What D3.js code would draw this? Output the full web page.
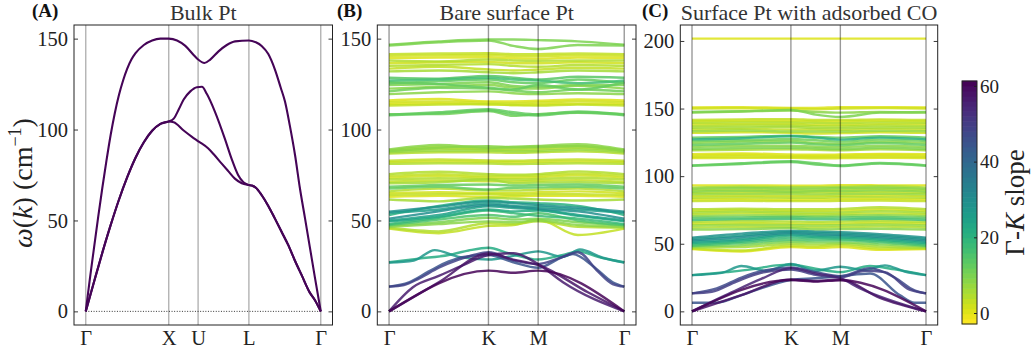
<!DOCTYPE html>
<html>
<head>
<meta charset="utf-8">
<script src="https://cdn.jsdelivr.net/npm/d3@7"></script>
<style>
  body { margin: 0; background: #fff; }
  svg { display: block; }
</style>
</head>
<body>
<svg id="fig" width="1034" height="354"></svg>
<script>
// ---- data ----
var bulkLabels = ["Γ", "X", "U", "L", "Γ"];
var bulkTicks = [0, 1, 1.354, 1.966, 2.832];
var surfLabels = ["Γ", "K", "M", "Γ"];
var surfTicks = [0, 1, 1.5, 2.366];
// k nodes used by the flat optical bands of the slabs
var kGrid = [0, 0.5, 1, 1.25, 1.5, 1.9, 2.366];

var bulkUpper = [[0,0],[0.05,18],[0.1,35],[0.15,52],[0.2,68],[0.25,83],[0.3,97],[0.35,109],[0.4,119],[0.45,127],
  [0.5,133.5],[0.55,138.5],[0.6,142],[0.7,146.5],[0.8,149],[0.9,150],[1,150],[1.1,149],[1.2,146],[1.3,141],
  [1.354,138.5],[1.43,136.6],[1.5,138.5],[1.6,143],[1.7,146.5],[1.8,148.5],[1.966,149],[2.05,148],[2.12,146],
  [2.2,141.5],[2.28,133],[2.35,123],[2.401,115.4],[2.46,102],[2.522,86],[2.58,68],[2.643,51],[2.7,35.5],
  [2.764,18],[2.832,0]];
var bulkMiddle = [[0,0],[0.1,16.3],[0.2,32.3],[0.3,47.4],[0.4,61.4],[0.5,73.8],[0.6,84.5],[0.7,93],[0.8,99.3],
  [0.9,103.1],[1,104.4],[1.06,106],[1.12,111],[1.18,116.5],[1.26,121],[1.34,123.3],[1.4,123.5],[1.46,119.5],
  [1.555,110],[1.676,95],[1.757,84],[1.836,75],[1.9,71],[1.966,69.5],[2,69.2],[2.05,68],[2.119,64],[2.2,58],
  [2.28,51],[2.36,43.8],[2.441,36.4],[2.52,28],[2.602,19.9],[2.7,10.3],[2.764,6],[2.832,0]];
var bulkLower = [[0,0],[0.1,16.3],[0.2,32.3],[0.3,47.4],[0.4,61.4],[0.5,73.8],[0.6,84.5],[0.7,93],[0.8,99.3],
  [0.9,103.1],[1,104.4],[1.06,104],[1.18,99.5],[1.28,96],[1.362,93.4],[1.474,89.7],[1.55,86],[1.636,81.4],
  [1.72,77],[1.797,73],[1.88,70.5],[1.966,69.5],[2,69.2],[2.05,68],[2.119,64],[2.2,58],[2.28,51],[2.36,43.8],
  [2.441,36.4],[2.52,28],[2.602,19.9],[2.7,10.3],[2.764,6],[2.832,0]];
var bulkSlope = [62, 62, 62];

// bare surface: [slope, values at kGrid]
var bareFlat = [
  [10,[146.7,148.5,149.5,149.5,149.2,148.5,146.7]],
  [10,[146.2,148,149,146,144.3,146.5,146.2]],
  [3,[141.5,141.8,142,141.5,141.5,141.8,141.5]],
  [2,[140.5,140.8,141,140.5,140.3,140.8,140.5]],
  [1,[139.3,139.6,139.8,139.2,139,139.6,139.3]],
  [4,[138,137.5,138.5,138,137.8,138,138]],
  [2,[136.5,137,137.2,136.5,136.5,137,136.5]],
  [5,[135,135.5,136,135,134.5,135.5,135]],
  [3,[133.5,134.5,133,132.5,133,134,133.5]],
  [6,[132,132.5,131.5,131,131.5,132.5,132]],
  [14,[128.5,128,129.5,128.5,127.5,129,128.5]],
  [16,[127,127.5,128.5,127.5,127,125.5,127]],
  [12,[125.5,126.5,127.5,126,125.5,127.5,125.5]],
  [10,[124.5,125,126,124,123.5,124.5,124.5]],
  [9,[122.5,123.5,124.5,123,122.5,124,122.5]],
  [11,[121,123,122.5,121.5,120.5,122,121]],
  [8,[119.5,120.5,121,120,119.5,120,119.5]],
  [13,[126,125,123,122,124.5,122,126]],
  [1,[116,116.8,115.5,115.5,115.8,116.5,116]],
  [2,[115,115.5,114.8,114.5,114.8,115.5,115]],
  [0,[114,114.5,113.8,113.5,113.8,114.2,114]],
  [3,[113.2,113.8,114,113.5,113.2,113.8,113.2]],
  [12,[108.2,109.5,111.2,109.5,108.3,110,108.2]],
  [13,[107.8,109,110.6,108.5,107.7,109.5,107.8]],
  [11,[108.5,108.5,110.2,107.5,108.5,109.2,108.5]],
  [8,[89,91.5,90,90.5,91,92,89]],
  [6,[88.5,90.5,89.5,89.5,90,91,88.5]],
  [5,[88,89.5,89,88.8,89,90,88]],
  [7,[87.5,88.5,88.5,88,88.2,89,87.5]],
  [4,[86.8,87.5,87.5,87.2,87.5,88,86.8]],
  [9,[88.2,90,90.8,90.2,90.5,90.8,88.2]],
  [3,[82.8,83.5,83,82.8,83.2,83.5,82.8]],
  [2,[82,82.5,82.2,82,82.2,82.5,82]],
  [4,[81.2,81.5,81.3,81,81.2,81.5,81.2]],
  [4,[75.5,76.8,75.5,75.2,75.5,77,75.5]],
  [3,[74.5,75.5,74.5,74.5,74.8,75.8,74.5]],
  [2,[73.5,74.5,73.5,73.5,73.8,74.8,73.5]],
  [5,[72.5,73.2,72.8,72.5,72.8,73.5,72.5]],
  [3,[71.2,72,71.5,71.5,71.8,72.2,71.2]],
  [6,[70.5,71,72.5,70.5,70.8,71,70.5]],
  [13,[68.5,69.5,69.8,69.2,69.5,69.8,68.5]],
  [12,[67.5,68.5,67,68,68.2,68.5,67.5]],
  [4,[66,67.5,66.5,66.5,67,67.5,66]],
  [2,[65,65.5,65,65,65.5,66,65]],
  [3,[64,64.5,64.5,64,64.5,64.5,64]],
  [1,[63,63.5,63,63.2,63.5,63.5,63]],
  [6,[61.5,60.5,62.5,62,61.5,61,61.5]],
  [28,[54.8,57.5,60.5,59.5,58.5,57,54.8]],
  [26,[54.2,56,59.5,58,57.5,56,54.2]],
  [30,[51,55,58.5,57.5,56.5,55,51]],
  [24,[50,53,57.8,56.8,56,53,50]],
  [22,[49.5,52,56,55,55.5,52.5,49.5]],
  [18,[48,51.5,55.5,54,52.5,51,48]],
  [15,[47.5,50.5,53,52,54,50,47.5]],
  [10,[47,49,51.5,50.5,51,49,47]],
  [8,[46.5,48,49.5,49,50,47.5,46.5]],
  [5,[46,44,48.5,48,49.5,46.5,46]],
  [3,[45.5,43,47,47.5,50.5,42,45.5]],
  [20,[53,58,61,60,59.5,58,53]]
];
// bare surface: low dispersive bands, [slope, [[k, w], ...]]
var bareLow = [
  [60,[[0,0],[1,22.4],[1.25,21.2],[1.5,22.4],[2.366,0]]],
  [58,[[0,0],[0.5,16],[1,31.8],[1.25,28.5],[1.5,25.5],[2,10.5],[2.366,0]]],
  [56,[[0,0],[0.24,13.3],[0.5,19.5],[0.75,25.5],[1,31],[1.25,32],[1.5,26],[1.75,16],[2.366,0]]],
  [48,[[0,13.6],[0.15,14.5],[0.3,18],[0.5,24],[0.7,28.5],[0.85,31],[1,32.5],[1.25,28],[1.5,26],[1.7,29],[1.9,32.5],[2.1,22],[2.25,15],[2.366,13.6]]],
  [45,[[0,13.6],[0.2,16],[0.4,22],[0.6,27.5],[0.75,30],[1,31],[1.25,27],[1.5,24],[1.75,30],[1.85,31.5],[2.05,25],[2.25,16],[2.366,13.6]]],
  [27,[[0,26.8],[0.25,28],[0.46,33.7],[0.7,30],[1,28.5],[1.25,30.5],[1.5,33],[1.75,30],[1.92,34],[2.15,29.5],[2.366,26.8]]],
  [22,[[0,27],[0.3,29],[0.6,31],[0.8,33.5],[1,35],[1.2,32],[1.5,28.5],[1.75,31],[1.9,33],[2.1,30],[2.366,27]]]
];

// surface with CO
var coFlat = [
  [0,[201.7,201.7,201.7,201.7,201.7,201.7,201.7]],
  [0,[150.8,151,150.5,150.5,151,151,150.8]],
  [2,[150,150.2,149.8,149.5,150,150.3,150]],
  [10,[147.5,148,149,145.5,143.8,147,147.5]],
  [9,[147,147.8,148.5,147.5,147,147.5,147]],
  [3,[141.5,142,142.2,141.5,141.5,142,141.5]],
  [1,[140.5,141,141,140.5,140.5,141,140.5]],
  [5,[139.5,139.8,139.8,139.5,139.2,139.8,139.5]],
  [2,[138.3,138.5,138.8,138,138,138.5,138.3]],
  [4,[137,137.5,137.5,137,136.8,137.5,137]],
  [6,[135.8,136,136.5,135.5,135.5,136,135.8]],
  [3,[134.5,135,134.5,134.5,134.2,135,134.5]],
  [7,[133.2,133.8,133,133,133,133.5,133.2]],
  [2,[132,132.5,132,131.5,131.8,132.5,132]],
  [20,[127.2,128,129.5,128.5,127,128.5,127.2]],
  [13,[128.5,129,130,129,128.5,129.5,128.5]],
  [11,[126,126.5,127.5,126.5,125.5,127,126]],
  [9,[124.5,125.5,126,124.5,124,125.5,124.5]],
  [12,[123,124,124.8,123.5,123,124.5,123]],
  [8,[121.5,122.5,122.5,121.8,121.5,122.5,121.5]],
  [10,[120,120.8,121,120.5,120,121,120]],
  [6,[119.2,119.5,119.8,119.5,119.2,119.8,119.2]],
  [1,[116.3,116.8,116,115.8,116,116.5,116.3]],
  [0,[115.2,115.8,115,115,115.2,115.8,115.2]],
  [2,[114.2,114.5,114.2,114,114.2,114.5,114.2]],
  [1,[113.3,113.5,113.5,113.2,113.3,113.6,113.3]],
  [13,[108,109.5,111,109.5,108,109.8,108]],
  [12,[107.6,109,110.5,108.5,107.5,109.3,107.6]],
  [0,[93.2,93.2,93,93,93.3,93.2,93.2]],
  [6,[91.5,92.2,91.8,91.8,92,92.5,91.5]],
  [8,[90.5,91.3,90.8,90.8,91.2,91.5,90.5]],
  [4,[89.5,90,89.8,89.5,90,90.5,89.5]],
  [9,[88.5,89.2,88.5,88.8,89,89.5,88.5]],
  [3,[87.5,88,88,87.8,88,88.3,87.5]],
  [7,[86.5,86.8,86.8,86.5,86.8,87,86.5]],
  [2,[85.2,85.5,85.2,85.3,85.5,85.8,85.2]],
  [5,[84,84.3,84,84,84.5,84.5,84]],
  [1,[82.8,83,82.5,82.8,83,83.2,82.8]],
  [3,[81.5,81.8,81.5,81.5,81.8,82,81.5]],
  [4,[75.5,76,75.5,75.5,75.8,77,75.5]],
  [2,[74.2,75,74.3,74.3,74.5,75.5,74.2]],
  [6,[73,73.8,73.2,73,73.2,74,73]],
  [3,[71.8,72.5,72,71.8,72,72.5,71.8]],
  [8,[70.5,71,70.8,70.5,70.8,71.2,70.5]],
  [14,[69,69.5,69.8,69.3,69.5,69.8,69]],
  [16,[67.5,68.2,68.5,68,68,68.5,67.5]],
  [5,[66,66.8,66.5,66.2,66.5,67,66]],
  [2,[64.8,65.2,65,64.8,65,65.5,64.8]],
  [7,[63.5,64,63.8,63.5,63.8,64.2,63.5]],
  [4,[62,62.5,62.5,62,62.3,62.8,62]],
  [9,[60.5,60.8,61.5,60.5,60.8,61,60.5]],
  [28,[54.5,57.5,59.5,59,58.5,57,54.5]],
  [26,[53.5,56,58.8,58,57.5,56,53.5]],
  [30,[52.5,55,58,57,56.5,55,52.5]],
  [24,[51.5,53.5,57,56,55.5,54,51.5]],
  [22,[50.5,52.5,56,55,54.5,53,50.5]],
  [18,[49.5,51.5,54.5,54,53.5,52,49.5]],
  [15,[48.5,50.5,53,52.5,52.5,51,48.5]],
  [10,[48,49,51.5,51,51,49.5,48]],
  [6,[47.2,47.5,50,49.5,50,48,47.2]],
  [3,[46.5,45,48.5,48,49,46.5,46.5]],
  [1,[46,44.3,47.5,47,47.5,45.5,46]]
];
var coLow = [
  [60,[[0,0],[1,23.2],[1.25,22],[1.5,23],[2.366,0]]],
  [58,[[0,0],[0.5,12],[1,23.5],[1.25,22.5],[1.5,23.5],[1.9,10],[2.366,0]]],
  [55,[[0,0],[0.4,14],[0.7,24],[1,32],[1.25,28],[1.5,24.5],[1.7,17],[2.366,0]]],
  [44,[[0,6.4],[0.25,6.4],[0.5,12],[1,23.2],[1.25,24.5],[1.5,26],[1.8,28],[2.1,12],[2.25,6.4],[2.366,6.4]]],
  [50,[[0,13.3],[0.2,14.5],[0.45,22],[0.7,28.5],[1,31],[1.25,27],[1.5,25],[1.75,30],[1.95,29],[2.2,16],[2.366,13.3]]],
  [47,[[0,13.3],[0.25,17],[0.5,25],[0.75,30.5],[1,32.5],[1.25,29],[1.5,26],[1.8,32],[2.05,25],[2.25,15.5],[2.366,13.3]]],
  [27,[[0,26.8],[0.3,28.5],[0.5,33.5],[0.75,30],[1,35],[1.25,30],[1.5,33],[1.75,30.5],[1.95,34],[2.15,29.5],[2.366,26.8]]],
  [22,[[0,26.8],[0.35,29],[0.6,31],[0.85,34],[1,34.5],[1.25,31.5],[1.5,29],[1.8,33.5],[2.05,31],[2.366,26.8]]]
];

var abTicks = [0, 50, 100, 150];
var cTicks = [0, 50, 100, 150, 200];
var cbarTicks = [0, 20, 40, 60];
var cMin = -2.9, cMax = 61.3;

// ---- drawing ----
var FONT = "'Liberation Serif', 'Times New Roman', 'DejaVu Serif', serif";
var svg = d3.select("#fig").attr("font-family", FONT);
var nLevels = 48;
function bandColor(s) {
  var t = (s - cMin) / (cMax - cMin);
  t = Math.max(0, Math.min(1, t));
  var step = Math.min(nLevels - 1, Math.floor(t * nLevels));
  return d3.interpolateViridis(1 - (step + 0.5) / nLevels);
}

function gridBands(list) {
  return list.map(function (b) {
    return [b[0], kGrid.map(function (k, i) { return [k, b[1][i]]; })];
  });
}

function drawPanel(p) {
  var kEnd = p.ticks[p.ticks.length - 1];
  var x = d3.scaleLinear().domain([-0.05 * kEnd, 1.05 * kEnd]).range([p.left, p.right]);
  var y = d3.scaleLinear().domain(p.yDomain).range([325, 25]);
  var g = svg.append("g");

  g.append("clipPath").attr("id", "clip" + p.id)
    .append("rect").attr("x", p.left).attr("y", 25)
    .attr("width", p.right - p.left).attr("height", 300);

  var plot = g.append("g").attr("clip-path", "url(#clip" + p.id + ")");

  var vlines = plot.append("g");
  // zero line
  plot.append("line")
    .attr("x1", x(0)).attr("x2", x(kEnd)).attr("y1", y(0)).attr("y2", y(0))
    .attr("stroke", "#000").attr("stroke-width", 0.8).attr("stroke-dasharray", "1,1.6");

  var line = d3.line().x(function (d) { return x(d[0]); }).y(function (d) { return y(d[1]); })
    .curve(d3.curveMonotoneX);
  var bands = p.bands.slice().sort(function (a, b) { return a[0] - b[0]; });
  plot.selectAll("path.band").data(bands).enter().append("path")
    .attr("class", "band")
    .attr("d", function (d) { return line(d[1]); })
    .attr("fill", "none")
    .attr("stroke", function (d) { return bandColor(d[0]); })
    .attr("stroke-width", p.lineWidth)
    .attr("stroke-opacity", p.lineOpacity);

  var vg = p.linesOnTop ? plot.append("g") : vlines;
  vg.selectAll("line").data(p.ticks).enter().append("line")
    .attr("x1", function (d) { return x(d); }).attr("x2", function (d) { return x(d); })
    .attr("y1", 25).attr("y2", 325)
    .attr("stroke", "#000").attr("stroke-opacity", p.linesOnTop ? 0.4 : 0.3)
    .attr("stroke-width", 1.4);

  // frame
  g.append("rect").attr("x", p.left).attr("y", 25)
    .attr("width", p.right - p.left).attr("height", 300)
    .attr("fill", "none").attr("stroke", "#222").attr("stroke-width", 1);

  var ya = g.append("g").attr("transform", "translate(" + p.left + ",0)")
    .call(d3.axisLeft(y).tickValues(p.yTicks).tickSize(-4).tickPadding(6).tickFormat(d3.format("d")));
  g.append("g").attr("transform", "translate(" + p.right + ",0)")
    .call(d3.axisRight(y).tickValues(p.yTicks).tickSize(-4).tickFormat(""));
  var xa = g.append("g").attr("transform", "translate(0,325)")
    .call(d3.axisBottom(x).tickValues(p.ticks).tickSize(0).tickPadding(5)
      .tickFormat(function (d, i) { return p.labels[i]; }));
  g.selectAll(".domain").remove();
  g.selectAll(".tick line").attr("stroke", "#222").attr("stroke-width", 0.9);
  ya.attr("font-family", FONT).attr("font-size", 20.5);
  xa.attr("font-family", FONT).attr("font-size", 20.5);
  ya.selectAll("text").attr("fill", "#222");
  xa.selectAll("text").attr("fill", "#222");

  g.append("text").attr("x", (p.left + p.right) / 2).attr("y", 20)
    .attr("text-anchor", "middle").attr("font-size", 22).attr("fill", "#333").text(p.title);
  g.append("text").attr("x", p.tagX).attr("y", 17)
    .attr("font-size", 19).attr("font-weight", "bold").attr("fill", "#111").text(p.tag);
}

var bulkBands = [[bulkSlope[0], bulkUpper], [bulkSlope[1], bulkMiddle], [bulkSlope[2], bulkLower]];

drawPanel({ id: "A", left: 74, right: 332.5, ticks: bulkTicks, labels: bulkLabels,
  yDomain: [-7.5, 157.5], yTicks: abTicks, bands: bulkBands, lineWidth: 2.1, lineOpacity: 1,
  linesOnTop: false, title: "Bulk Pt", tag: "(A)", tagX: 32 });
drawPanel({ id: "B", left: 377.3, right: 636, ticks: surfTicks, labels: surfLabels,
  yDomain: [-7.5, 157.5], yTicks: abTicks, bands: gridBands(bareFlat).concat(bareLow),
  lineWidth: 2.4, lineOpacity: 0.85, linesOnTop: true, title: "Bare surface Pt", tag: "(B)", tagX: 337 });
drawPanel({ id: "C", left: 680.3, right: 937.7, ticks: surfTicks, labels: surfLabels,
  yDomain: [-10.1, 211.8], yTicks: cTicks, bands: gridBands(coFlat).concat(coLow),
  lineWidth: 2.4, lineOpacity: 0.85, linesOnTop: true, title: "Surface Pt with adsorbed CO", tag: "(C)", tagX: 642 });

// y label
svg.append("text").attr("transform", "translate(32,183) rotate(-90)")
  .attr("text-anchor", "middle").attr("font-size", 28).attr("fill", "#222")
  .call(function (t) {
    t.append("tspan").attr("font-style", "italic").text("ω");
    t.append("tspan").text("(");
    t.append("tspan").attr("font-style", "italic").text("k");
    t.append("tspan").text(") (cm");
    t.append("tspan").attr("font-size", 18).attr("dy", -11).text("−1");
    t.append("tspan").attr("dy", 11).text(")");
  });

// colorbar
var cb = svg.append("g");
var cy = d3.scaleLinear().domain([cMin, cMax]).range([324, 81]);
var levels = d3.range(nLevels);
cb.selectAll("rect.lev").data(levels).enter().append("rect")
  .attr("class", "lev")
  .attr("x", 962).attr("width", 15)
  .attr("y", function (i) { return cy(cMin + (i + 1) * (cMax - cMin) / nLevels) - 0.3; })
  .attr("height", function (i) { return cy(cMin + i * (cMax - cMin) / nLevels) - cy(cMin + (i + 1) * (cMax - cMin) / nLevels) + 0.6; })
  .attr("fill", function (i) { return d3.interpolateViridis(1 - (i + 0.5) / nLevels); });
cb.append("rect").attr("x", 962).attr("y", 81).attr("width", 15).attr("height", 243)
  .attr("fill", "none").attr("stroke", "#222").attr("stroke-width", 1);
var ca = cb.append("g").attr("transform", "translate(977,0)")
  .call(d3.axisRight(cy).tickValues(cbarTicks).tickSize(-3).tickPadding(3));
ca.select(".domain").remove();
ca.attr("font-family", FONT).attr("font-size", 19);
ca.selectAll("text").attr("fill", "#222");
ca.selectAll(".tick line").attr("stroke", "#222");

svg.append("text").attr("transform", "translate(1024,202.5) rotate(-90)")
  .attr("text-anchor", "middle").attr("font-size", 27).attr("fill", "#222")
  .call(function (t) {
    t.append("tspan").text("Γ-");
    t.append("tspan").attr("font-style", "italic").text("K");
    t.append("tspan").text(" slope");
  });
</script>
</body>
</html>
